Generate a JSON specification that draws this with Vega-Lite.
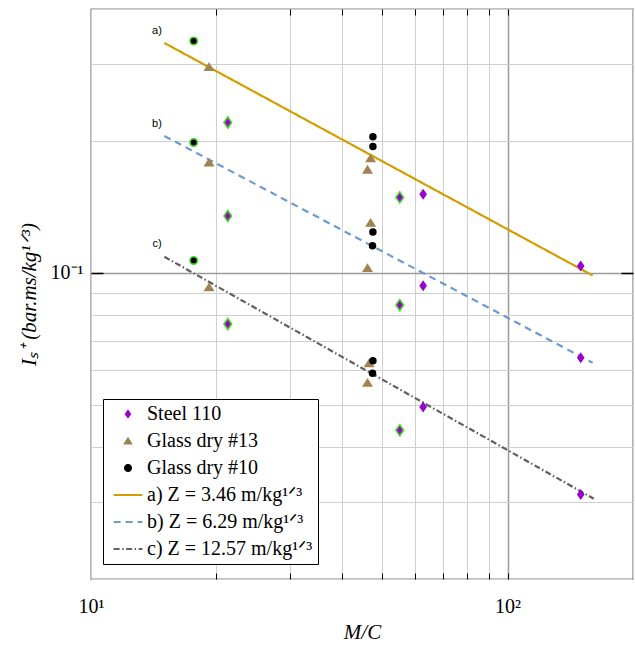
{
  "$schema": "https://vega.github.io/schema/vega-lite/v6.json",
  "width": 542,
  "height": 570,
  "autosize": {"type": "none"},
  "padding": {"left": 91, "top": 9, "right": 2, "bottom": 68},
  "background": "white",
  "config": {
    "view": {"stroke": "black", "strokeWidth": 1.2},
    "font": "Liberation Serif"
  },
  "datasets": {
    "pts": [
      {"series": "Steel 110", "x": 21.3, "y": 0.2203, "ring": true},
      {"series": "Steel 110", "x": 21.3, "y": 0.1348, "ring": true},
      {"series": "Steel 110", "x": 21.3, "y": 0.0764, "ring": true},
      {"series": "Steel 110", "x": 55.1, "y": 0.1486, "ring": true},
      {"series": "Steel 110", "x": 55.1, "y": 0.0844, "ring": true},
      {"series": "Steel 110", "x": 55.1, "y": 0.0437, "ring": true},
      {"series": "Steel 110", "x": 62.7, "y": 0.151, "ring": false},
      {"series": "Steel 110", "x": 62.7, "y": 0.0934, "ring": false},
      {"series": "Steel 110", "x": 62.7, "y": 0.0494, "ring": false},
      {"series": "Steel 110", "x": 149.8, "y": 0.1036, "ring": false},
      {"series": "Steel 110", "x": 149.8, "y": 0.064, "ring": false},
      {"series": "Steel 110", "x": 149.8, "y": 0.0312, "ring": false},
      {"series": "Glass dry #13", "x": 19.2, "y": 0.2955, "ring": false},
      {"series": "Glass dry #13", "x": 19.2, "y": 0.1788, "ring": false},
      {"series": "Glass dry #13", "x": 19.2, "y": 0.0929, "ring": false},
      {"series": "Glass dry #13", "x": 46.9, "y": 0.1829, "ring": false},
      {"series": "Glass dry #13", "x": 46.1, "y": 0.1723, "ring": false},
      {"series": "Glass dry #13", "x": 46.9, "y": 0.1303, "ring": false},
      {"series": "Glass dry #13", "x": 46.1, "y": 0.1027, "ring": false},
      {"series": "Glass dry #13", "x": 46.5, "y": 0.0623, "ring": false},
      {"series": "Glass dry #13", "x": 46.1, "y": 0.0562, "ring": false},
      {"series": "Glass dry #10", "x": 17.64, "y": 0.338, "ring": true},
      {"series": "Glass dry #10", "x": 17.64, "y": 0.1983, "ring": true},
      {"series": "Glass dry #10", "x": 17.64, "y": 0.1067, "ring": true},
      {"series": "Glass dry #10", "x": 47.5, "y": 0.2043, "ring": false},
      {"series": "Glass dry #10", "x": 47.5, "y": 0.1942, "ring": false},
      {"series": "Glass dry #10", "x": 47.5, "y": 0.1239, "ring": false},
      {"series": "Glass dry #10", "x": 47.4, "y": 0.1153, "ring": false},
      {"series": "Glass dry #10", "x": 47.5, "y": 0.063, "ring": false},
      {"series": "Glass dry #10", "x": 47.4, "y": 0.059, "ring": false}
    ],
    "fits": [
      {"series": "a) Z = 3.46 m/kg¹ᐟ³", "x": 15, "y": 0.3346},
      {"series": "a) Z = 3.46 m/kg¹ᐟ³", "x": 160, "y": 0.0986},
      {"series": "b) Z = 6.29 m/kg¹ᐟ³", "x": 15, "y": 0.2053},
      {"series": "b) Z = 6.29 m/kg¹ᐟ³", "x": 160, "y": 0.0623},
      {"series": "c) Z = 12.57 m/kg¹ᐟ³", "x": 15, "y": 0.1088},
      {"series": "c) Z = 12.57 m/kg¹ᐟ³", "x": 161, "y": 0.0305}
    ],
    "tags": [
      {"label": "a)", "x": 14.4, "y": 0.357},
      {"label": "b)", "x": 14.4, "y": 0.2188},
      {"label": "c)", "x": 14.4, "y": 0.1163}
    ]
  },
  "resolve": {"axis": {"x": "independent", "y": "independent"}},
  "layer": [
    {
      "data": {"name": "fits"},
      "mark": {"type": "line", "strokeWidth": 2.2},
      "encoding": {
        "x": {
          "field": "x", "type": "quantitative",
          "scale": {"type": "log", "domain": [10, 200], "nice": false},
          "axis": {
            "orient": "bottom",
            "values": [10, 20, 30, 40, 50, 60, 70, 80, 90, 100, 200],
            "labelExpr": "datum.value === 10 ? '10¹' : (datum.value === 100 ? '10²' : '')",
            "grid": true,
            "gridColor": {"condition": {"test": "datum.value === 100", "value": "#9a9a9a"}, "value": "#cfcfcf"},
            "gridWidth": {"condition": {"test": "datum.value === 100", "value": 1.5}, "value": 1},
            "ticks": true,
            "tickSize": -6,
            "tickColor": {"condition": {"test": "datum.value === 10 || datum.value === 200", "value": "transparent"}, "value": "black"},
            "domain": false,
            "labelFont": "Liberation Serif",
            "labelFontSize": 20,
            "labelColor": "black",
            "labelPadding": 23,
            "labelFlush": false,
            "labelOverlap": false,
            "title": "M/C",
            "titleFont": "Liberation Serif",
            "titleFontStyle": "italic",
            "titleFontWeight": "normal",
            "titleFontSize": 21,
            "titleColor": "black",
            "titlePadding": 5
          }
        },
        "y": {
          "field": "y", "type": "quantitative",
          "scale": {"type": "log", "domain": [0.02, 0.4], "nice": false},
          "axis": {
            "orient": "left",
            "values": [0.02, 0.03, 0.04, 0.05, 0.06, 0.07, 0.08, 0.09, 0.1, 0.2, 0.3, 0.4],
            "labelExpr": "abs(datum.value - 0.1) < 1e-6 ? '10⁻¹' : ''",
            "grid": true,
            "gridColor": {"condition": {"test": "abs(datum.value - 0.1) < 1e-6", "value": "#9a9a9a"}, "value": "#cfcfcf"},
            "gridWidth": {"condition": {"test": "abs(datum.value - 0.1) < 1e-6", "value": 1.5}, "value": 1},
            "ticks": true,
            "tickSize": -12,
            "tickWidth": 1.5,
            "tickColor": {"condition": {"test": "abs(datum.value - 0.1) < 1e-6", "value": "black"}, "value": "transparent"},
            "domain": false,
            "labelFont": "Liberation Serif",
            "labelFontSize": 20,
            "labelColor": "black",
            "labelPadding": 20,
            "labelOverlap": false,
            "title": "Iₛ⁺ (bar.ms/kg¹ᐟ³)",
            "titleFont": "Liberation Serif",
            "titleFontStyle": "italic",
            "titleFontWeight": "normal",
            "titleFontSize": 21,
            "titleColor": "black",
            "titlePadding": 11
          }
        },
        "color": {
          "field": "series", "type": "nominal",
          "scale": {
            "domain": ["Steel 110", "Glass dry #13", "Glass dry #10", "a) Z = 3.46 m/kg¹ᐟ³", "b) Z = 6.29 m/kg¹ᐟ³", "c) Z = 12.57 m/kg¹ᐟ³"],
            "range": ["#9A00CC", "#A0834F", "#000000", "#D29E00", "#6C9BD2", "#606060"]
          },
          "legend": {
            "orient": "none",
            "legendX": 12,
            "legendY": 390,
            "title": null,
            "labelFont": "Liberation Serif",
            "labelFontSize": 20,
            "labelColor": "black",
            "labelLimit": 0,
            "symbolSize": 36,
            "symbolStrokeWidth": 2,
            "symbolOffset": 10,
            "labelOffset": 9,
            "padding": 5,
            "rowPadding": 7,
            "strokeColor": "black",
            "fillColor": "white"
          }
        },
        "strokeDash": {
          "field": "series", "type": "nominal",
          "scale": {
            "domain": ["Steel 110", "Glass dry #13", "Glass dry #10", "a) Z = 3.46 m/kg¹ᐟ³", "b) Z = 6.29 m/kg¹ᐟ³", "c) Z = 12.57 m/kg¹ᐟ³"],
            "range": [[1, 0], [1, 0], [1, 0], [1, 0], [7, 5], [6, 2.5, 1.5, 2.5]]
          }
        }
      }
    },
    {
      "data": {"name": "pts"},
      "mark": {"type": "point", "filled": true, "opacity": 1, "strokeWidth": 1.6},
      "encoding": {
        "x": {
          "field": "x", "type": "quantitative",
          "axis": {
            "orient": "top",
            "values": [20, 30, 40, 50, 60, 70, 80, 90, 100],
            "labels": false, "grid": false, "domain": false, "ticks": true,
            "tickColor": "black", "tickSize": -6,
            "title": null
          }
        },
        "y": {
          "field": "y", "type": "quantitative",
          "axis": {
            "orient": "right",
            "values": [0.1],
            "labels": false, "grid": false, "domain": false, "ticks": true,
            "tickColor": "black", "tickWidth": 1.5, "tickSize": -12,
            "title": null
          }
        },
        "color": {"field": "series", "type": "nominal"},
        "shape": {
          "field": "series", "type": "nominal",
          "scale": {
            "domain": ["Steel 110", "Glass dry #13", "Glass dry #10", "a) Z = 3.46 m/kg¹ᐟ³", "b) Z = 6.29 m/kg¹ᐟ³", "c) Z = 12.57 m/kg¹ᐟ³"],
            "range": ["M0,-1L0.7,0L0,1L-0.7,0Z", "M0,-0.8L1,0.8L-1,0.8Z", "circle", "M-4.8,0L4.8,0", "M-4.8,0L4.8,0", "M-4.8,0L4.8,0"]
          }
        },
        "size": {"condition": {"test": "datum.series === 'Glass dry #10'", "value": 56}, "value": 121},
        "stroke": {"condition": {"test": "datum.ring", "value": "#4BD62C"}, "value": "transparent"}
      }
    },
    {
      "data": {"name": "tags"},
      "mark": {"type": "text", "font": "Liberation Sans", "fontSize": 11, "color": "black", "align": "center", "baseline": "middle"},
      "encoding": {
        "x": {"field": "x", "type": "quantitative", "axis": null},
        "y": {"field": "y", "type": "quantitative", "axis": null},
        "text": {"field": "label"}
      }
    }
  ]
}
